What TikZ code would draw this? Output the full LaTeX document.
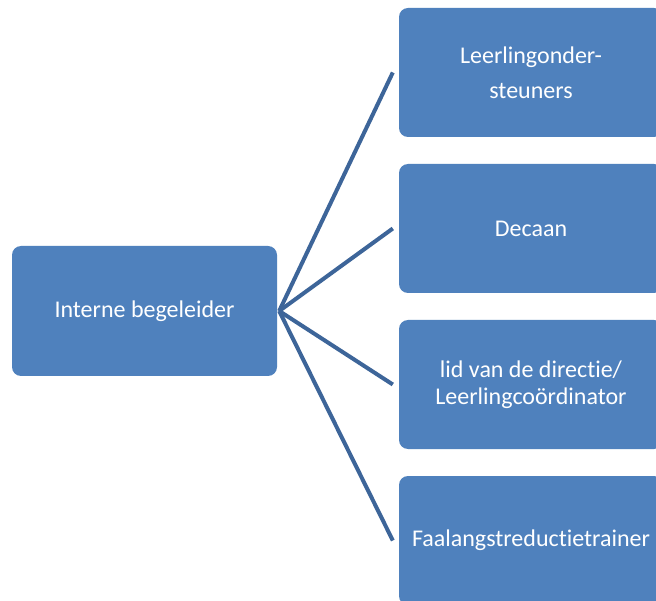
\documentclass[tikz,border=0pt]{standalone}
\usepackage{fontspec}
\setmainfont{Carlito}[Ligatures=NoCommon]
\usepackage{xcolor}
\usepackage{tikz}
\usetikzlibrary{positioning}
\definecolor{boxblue}{HTML}{4F81BD}
\definecolor{linkblue}{HTML}{3D6599}
\tikzset{ORG style/.style={x=1pt,y=-1pt,
	every node/.style={font=\fontsize{24}{27}\selectfont},
	rolebox/.style={rectangle,rounded corners=9pt,fill=boxblue,text=white,align=center,inner sep=0pt},
	link/.style={draw=linkblue,line width=4pt}}}

\begin{document}
\begin{tikzpicture}[ORG style]
			\clip (0,0) rectangle (656,601);
			\fill[white] (0,0) rectangle (656,601);
			
			\node[rolebox, minimum width=265pt, minimum height=130pt] (ib) at (144.5,311) {Interne begeleider};
			
			\node[rolebox, minimum width=264pt, minimum height=129pt] (los) at (531,72.5) {Leerlingonder-\\[8pt]steuners};
			\node[rolebox, minimum width=264pt, minimum height=129pt] (dec) at (531,228.5) {Decaan};
			\node[rolebox, minimum width=264pt, minimum height=129pt] (dir) at (531,384.5) {lid van de directie/\\Leerlingco\"ordinator};
			\node[rolebox, minimum width=264pt, minimum height=129pt] (fat) at (531,540.5) {Faalangstreductietrainer};
			
			\coordinate (hub) at ([xshift=2pt]ib.east);
			\draw[link] (hub) -- ([xshift=-6pt]los.west);
			\draw[link] (hub) -- ([xshift=-6pt]dec.west);
			\draw[link] (hub) -- ([xshift=-6pt]dir.west);
			\draw[link] (hub) -- ([xshift=-6pt]fat.west);
		\end{tikzpicture}
\end{document}
